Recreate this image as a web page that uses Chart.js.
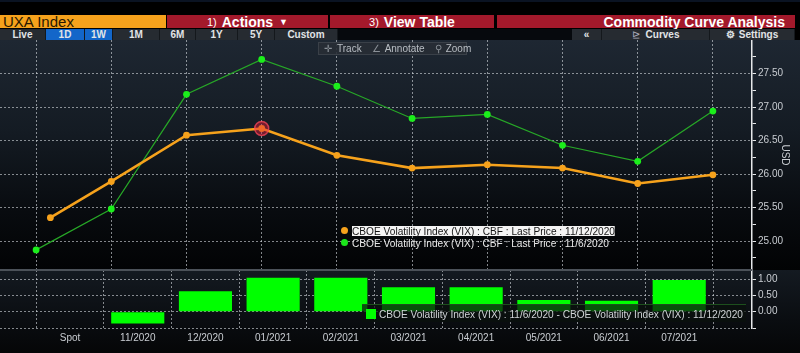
<!DOCTYPE html>
<html>
<head>
<meta charset="utf-8">
<script src="https://cdn.jsdelivr.net/npm/chart.js@4.4.1/dist/chart.umd.min.js"></script>
<style>
  html,body{margin:0;padding:0;background:#000;}
  body{width:800px;height:353px;overflow:hidden;position:relative;font-family:"Liberation Sans",Arial,sans-serif;}
  .abs{position:absolute;}
  .b{position:absolute;display:flex;align-items:center;box-sizing:border-box;white-space:nowrap;}
  .or{background:#f6a21c;color:#2a1800;font-size:15px;top:15px;height:13px;padding-left:3px;}
  .rd{background:#a3192b;color:#fff;font-size:14px;font-weight:bold;top:15px;height:13px;}
  .r2{top:29px;height:11px;background:#262b31;color:#e2e4e6;font-size:10px;font-weight:bold;justify-content:center;border-right:1px solid #14181c;}
  .blue{background:#1366c9;}
  #mainWrap{left:0;top:40px;width:800px;height:230px;background:linear-gradient(to bottom,#1e2732 0%,#141b23 40%,#080b0f 75%,#020304 100%);}
  #subWrap{left:0;top:270px;width:800px;height:83px;background:linear-gradient(to bottom,#141a21 0%,#0a0d11 60%,#050607 100%);}
  #sep{left:0;top:269px;width:752px;height:2px;background:#4b5158;}
  .tb{top:42px;height:13px;left:318px;width:149px;background:rgba(40,46,53,0.9);border:1px solid #3a4048;box-sizing:border-box;color:#b9bec4;font-size:10px;display:flex;align-items:center;}
  .fit{position:absolute;white-space:nowrap;transform-origin:0 50%;}
  .lg{font-size:11px;line-height:10px;}
  .dot{position:absolute;width:7px;height:7px;border-radius:50%;}
</style>
</head>
<body>
<!-- header row 1 -->
<div class="abs" style="left:0;top:0;width:800px;height:2px;background:#0a1322"></div>
<div class="b or" style="left:0;width:166px;">UXA Index</div>
<div class="b rd" style="left:167px;width:161px;justify-content:center;"><span style="font-weight:normal;font-size:11px;margin-right:5px">1)</span>Actions<span style="font-size:9px;margin-left:6px">▼</span></div>
<div class="b rd" style="left:330px;width:164px;justify-content:center;"><span style="font-weight:normal;font-size:11px;margin-right:5px">3)</span>View Table</div>
<div class="b rd" style="left:497px;width:298px;justify-content:flex-end;padding-right:10px;">Commodity Curve Analysis</div>
<!-- header row 2 -->
<div class="b r2" style="left:0;width:46px;">Live</div>
<div class="b r2 blue" style="left:46px;width:39px;">1D</div>
<div class="b r2 blue" style="left:85px;width:28px;">1W</div>
<div class="b r2" style="left:113px;width:47px;">1M</div>
<div class="b r2" style="left:160px;width:36px;">6M</div>
<div class="b r2" style="left:196px;width:42px;">1Y</div>
<div class="b r2" style="left:238px;width:37px;">5Y</div>
<div class="b r2" style="left:275px;width:63px;">Custom</div>
<div class="abs" style="left:338px;top:29px;width:234px;height:11px;background:#06090d"></div>
<div class="b r2" style="left:572px;width:30px;">«</div>
<div class="b r2" style="left:602px;width:108px;"><span style="font-weight:normal;margin-right:6px;color:#aab">⊵</span>Curves</div>
<div class="b r2" style="left:710px;width:85px;"><span style="margin-right:4px">⚙</span>Settings</div>
<div class="abs" style="left:795px;top:15px;width:5px;height:25px;background:#000"></div>

<div id="mainWrap" class="abs"><canvas id="mainChart" width="800" height="230"></canvas></div>
<div id="subWrap" class="abs"><canvas id="subChart" width="800" height="83"></canvas></div>
<div id="sep" class="abs"></div>

<!-- toolbar -->
<div class="tb abs">
  <span style="margin-left:5px;color:#8a9097">✛</span><span style="margin-left:5px">Track</span>
  <span style="margin-left:5px;width:1px;height:11px;background:#4a5058"></span>
  <span style="margin-left:5px;color:#8a9097">∠</span><span style="margin-left:4px">Annotate</span>
  <span style="margin-left:5px;width:1px;height:11px;background:#4a5058"></span>
  <span style="margin-left:5px;color:#8a9097">⚲</span><span style="margin-left:4px">Zoom</span>
</div>

<!-- main legend -->
<div class="dot" style="left:341px;top:227px;background:#f6a21c"></div>
<div class="fit lg" data-w="263" style="left:352px;top:226px;background:#f4f4f4;color:#151515;">CBOE Volatility Index (VIX) : CBF : Last Price : 11/12/2020</div>
<div class="dot" style="left:341px;top:239px;background:#1be61b"></div>
<div class="fit lg" data-w="257" style="left:352px;top:238px;color:#e8e8e8;">CBOE Volatility Index (VIX) : CBF : Last Price : 11/6/2020</div>

<!-- bottom legend -->
<div class="abs" style="left:362px;top:304px;width:384px;height:18px;background:rgba(10,16,12,0.72);border-top:1px solid #1d4f1d;box-sizing:border-box;"></div>
<div class="abs" style="left:366px;top:309px;width:10px;height:10px;background:#00ff00"></div>
<div class="fit lg" data-w="364" style="left:379px;top:309px;color:#cfd3d6;">CBOE Volatility Index (VIX) : 11/6/2020 - CBOE Volatility Index (VIX) : 11/12/2020</div>

<script>
// ---------- data ----------
const categories = ["Spot","11/2020","12/2020","01/2021","02/2021","03/2021","04/2021","05/2021","06/2021","07/2021"];
const positions  = [0,1,2,3,4,5,6,7,8,9];
const orangePositions = [0.19,1,2,3,4,5,6,7,8,9];   // spot of 11/12 sits slightly later
const price1112 = [25.35,25.89,26.58,26.68,26.28,26.09,26.14,26.09,25.86,25.99];
const price1106 = [24.87,25.48,27.19,27.71,27.31,26.83,26.89,26.43,26.19,26.94];
const spread    = [null,-0.36,0.63,1.04,1.04,0.75,0.75,0.36,0.34,0.97];
const priceTicks = [25.00,25.50,26.00,26.50,27.00,27.50];
const spreadTicks = [-0.50,0.00,0.50,1.00];
const spreadLabelTicks = [0.00,0.50,1.00];
const highlightIndex = 3;

// ---------- fit text widths ----------
document.querySelectorAll('.fit').forEach(el=>{
  const w = el.getBoundingClientRect().width;
  const t = parseFloat(el.dataset.w);
  el.style.transform = 'scaleX(' + (t/w) + ')';
});

Chart.defaults.font.family = '"Liberation Sans", Arial, sans-serif';
Chart.defaults.animation = false;

const gridCol = 'rgba(215,220,225,0.6)';
const labelCol = '#c9cdd2';
const AXIS_W = 48;

function noPad(s){ s.paddingTop = 0; s.paddingBottom = 0; s.paddingLeft = 0; s.paddingRight = 0; }

function xAxis(showLabels){
  return {
    type:'linear', min:-0.48, max:9.52,
    afterBuildTicks: s => { s.ticks = positions.map(v=>({value:v})); },
    ticks:{display:showLabels, autoSkip:false, maxRotation:0, color:labelCol, font:{size:10}, padding:4,
      callback:(v)=>categories[Math.round(v)] ?? ''},
    grid:{color:gridCol, lineWidth:1, drawTicks:false},
    border:{display:false, dash:[2,2]},
    afterFit: s => { s.height = showLabels ? 25 : 0; noPad(s); }
  };
}

const isMajorPrice = v => priceTicks.some(p=>Math.abs(p-v)<1e-6);

// ---------- main chart ----------
new Chart(document.getElementById('mainChart'), {
  type:'line',
  data:{
    datasets:[
      { // highlight marker on 01/2021 point
        data:[{x:positions[highlightIndex], y:price1112[highlightIndex]}],
        showLine:false, pointRadius:7, pointBackgroundColor:'rgba(230,30,60,0.45)',
        pointBorderColor:'rgba(255,70,90,0.75)', pointBorderWidth:1.5, pointStyle:'circle'
      },
      {
        label:'CBOE Volatility Index (VIX) : CBF : Last Price : 11/12/2020',
        data: orangePositions.map((x,i)=>({x, y:price1112[i]})),
        borderColor:'#f6a21c', borderWidth:2.6, pointRadius:3.4, pointBackgroundColor:'#f6a21c',
        pointBorderWidth:0, tension:0
      },
      {
        label:'CBOE Volatility Index (VIX) : CBF : Last Price : 11/6/2020',
        data: positions.map((x,i)=>({x, y:price1106[i]})),
        borderColor:'#27a827', borderWidth:1.2, pointRadius:3.4, pointBackgroundColor:'#1bee1b',
        pointBorderWidth:0, tension:0
      }
    ]
  },
  options:{
    responsive:false, devicePixelRatio:1,
    layout:{padding:0, autoPadding:false},
    plugins:{legend:{display:false}, tooltip:{enabled:false}},
    scales:{
      x: xAxis(false),
      y:{
        position:'right', min:24.57, max:28.0,
        afterBuildTicks: s => {
          const t = [];
          priceTicks.forEach(p=>{ t.push(p-0.25); t.push(p); });
          t.push(priceTicks[priceTicks.length-1]+0.25);
          s.ticks = t.map(v=>({value:v}));
        },
        ticks:{color:labelCol, font:{size:10}, padding:2,
          callback:(v)=> isMajorPrice(v) ? v.toFixed(2) : ''},
        grid:{color:(c)=> (c.tick && isMajorPrice(c.tick.value)) ? gridCol : 'rgba(0,0,0,0)',
              tickColor:'#e6e8ea', tickLength:4, lineWidth:1},
        border:{display:true, color:'#e6e8ea', width:1.5, dash:[2,2]},
        title:{display:true, text:'USD', color:labelCol, font:{size:10}, padding:{top:9,bottom:0}},
        afterFit: s => { s.width = AXIS_W; noPad(s); }
      }
    }
  }
});

// ---------- spread chart ----------
const isLabelSpread = v => spreadLabelTicks.some(p=>Math.abs(p-v)<1e-6);
new Chart(document.getElementById('subChart'), {
  type:'bar',
  data:{
    datasets:[{
      label:'CBOE Volatility Index (VIX) : 11/6/2020 - CBOE Volatility Index (VIX) : 11/12/2020',
      data: positions.map((x,i)=>({x, y:spread[i]})).filter(d=>d.y!==null),
      backgroundColor:'#00ff00', borderWidth:0, barPercentage:0.785, categoryPercentage:1
    }]
  },
  options:{
    responsive:false, devicePixelRatio:1,
    layout:{padding:0, autoPadding:false},
    plugins:{legend:{display:false}, tooltip:{enabled:false}},
    scales:{
      x: xAxis(true),
      y:{
        position:'right', min:-0.5, max:1.28,
        afterBuildTicks: s => { s.ticks = spreadTicks.map(v=>({value:v})); },
        ticks:{color:labelCol, font:{size:10}, padding:2,
          callback:(v)=> isLabelSpread(v) ? v.toFixed(2) : ''},
        grid:{color:gridCol, tickColor:'#e6e8ea', tickLength:4, lineWidth:1},
        border:{display:true, color:'#e6e8ea', width:1.5, dash:[2,2]},
        afterFit: s => { s.width = AXIS_W; noPad(s); }
      }
    }
  }
});
</script>
</body>
</html>
